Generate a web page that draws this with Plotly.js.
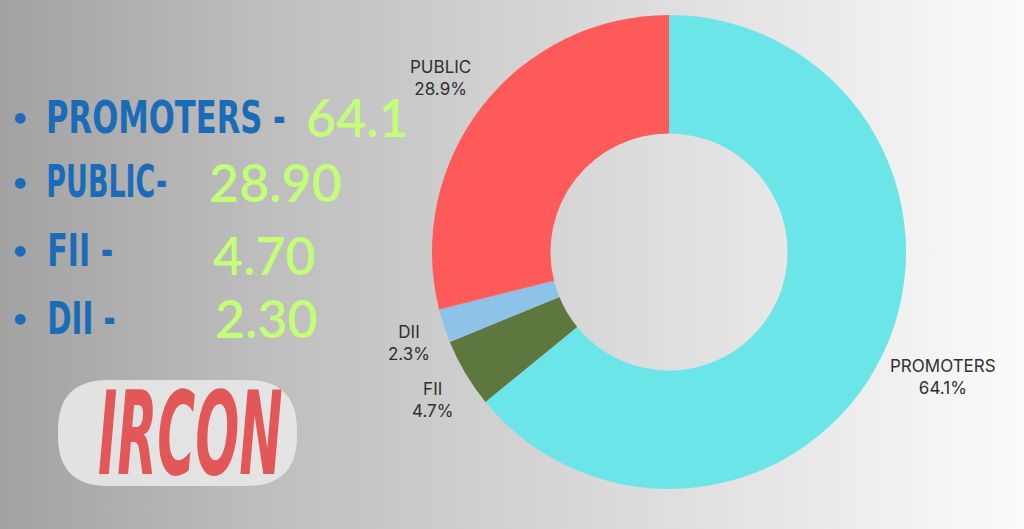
<!DOCTYPE html>
<html>
<head>
<meta charset="utf-8">
<script src="https://cdn.plot.ly/plotly-3.0.1.min.js"></script>
<style>
html,body{margin:0;padding:0;width:1024px;height:529px;overflow:hidden;}
body{background:linear-gradient(to right,#a2a2a2 0%,#bdbdbd 25%,#d2d2d2 50%,#e6e6e6 75%,#fbfbfb 100%);}
#chart{width:1024px;height:529px;}
</style>
<style id="dyn"></style>
</head>
<body>
<div id="chart"></div>
<script>
const categories = ["PROMOTERS", "FII", "DII", "PUBLIC"];
const values = [64.1, 4.7, 2.3, 28.9];
const colors = ["#6ce5e8", "#5d773e", "#8ec3e8", "#ff5a5a"];
const listLabels = ["PROMOTERS -", "PUBLIC-", "FII -", "DII -"];
const listValues = ["64.1", "28.90", "4.70", "2.30"];

const listY = [117, 182, 250, 318];
const labelCenterX = [166, 106, 80, 81];
const labelScale = [0.775, 0.68, 0.76, 0.74];
const valueX = [304, 207, 211, 213];
const valueYOff = [0, 0, 5, 0];

const H = 529, W = 1024;
const annotations = [];
const condensed = [];
for (let i = 0; i < listLabels.length; i++) {
  annotations.push({
    xref: "paper", yref: "paper", x: 20 / W, y: 1 - listY[i] / H,
    xanchor: "center", yanchor: "middle", showarrow: false,
    text: "●", font: {family: "DejaVu Sans", size: 14, color: "#1a6cb8"}
  });
  condensed.push([annotations.length, labelScale[i]]);
  annotations.push({
    xref: "paper", yref: "paper", x: labelCenterX[i] / W, y: 1 - listY[i] / H,
    xanchor: "center", yanchor: "middle", showarrow: false,
    text: listLabels[i],
    font: {family: "DejaVu Sans", size: 44, color: "#1a6cb8", weight: 700}
  });
  annotations.push({
    xref: "paper", yref: "paper", x: valueX[i] / W, y: 1 - (listY[i] + valueYOff[i]) / H,
    xanchor: "left", yanchor: "middle", showarrow: false,
    text: listValues[i],
    font: {family: "Lato, Open Sans, sans-serif", size: 52, color: "#c4fd78", weight: 600}
  });
}
const logoIdx = annotations.length;
annotations.push({
  xref: "paper", yref: "paper", x: 190 / W, y: 1 - 434 / H,
  xanchor: "center", yanchor: "middle", showarrow: false,
  text: "IRCON",
  font: {family: "DejaVu Sans", size: 72, color: "#e25858", weight: 700, style: "italic"}
});

// pie labels placed from the data (slice mid-angles)
const cx = 669, cy = 252, R = 237;
const total = values.reduce((a, b) => a + b, 0);
let cum = 0;
for (let i = 0; i < values.length; i++) {
  const mid = (cum + values[i] / 2) / total * 2 * Math.PI;
  cum += values[i];
  const sx = Math.sin(mid), dn = -Math.cos(mid);
  const rr = R + 12;
  const px = cx + rr * sx, py = cy + rr * dn;
  const yshift = 21 * Math.max(-1, Math.min(1, dn * 2));
  annotations.push({
    xref: "paper", yref: "paper", x: (px - (sx >= 0 ? 6 : 0)) / W, y: 1 - (py + yshift) / H,
    xanchor: sx >= 0 ? "left" : "right", yanchor: "middle", showarrow: false,
    align: "center",
    text: categories[i] + "<br>" + (values[i] / total * 100).toFixed(1) + "%",
    font: {family: "Inter, sans-serif", size: 17, color: "#303030"}
  });
}

function rrPath(x0, y0, x1, y1, r) {
  const px = v => v / W, py = v => 1 - v / H;
  return "M " + px(x0 + r) + "," + py(y0) +
    " L " + px(x1 - r) + "," + py(y0) +
    " Q " + px(x1) + "," + py(y0) + " " + px(x1) + "," + py(y0 + r) +
    " L " + px(x1) + "," + py(y1 - r) +
    " Q " + px(x1) + "," + py(y1) + " " + px(x1 - r) + "," + py(y1) +
    " L " + px(x0 + r) + "," + py(y1) +
    " Q " + px(x0) + "," + py(y1) + " " + px(x0) + "," + py(y1 - r) +
    " L " + px(x0) + "," + py(y0 + r) +
    " Q " + px(x0) + "," + py(y0) + " " + px(x0 + r) + "," + py(y0) + " Z";
}
const shapes = [{
  type: "path", xref: "paper", yref: "paper",
  path: rrPath(58, 380, 297, 486, 50),
  fillcolor: "rgba(232,232,232,0.9)", line: {width: 0}, layer: "below"
}];

const data = [{
  type: "pie",
  labels: categories,
  values: values,
  hole: 0.5,
  sort: false,
  direction: "clockwise",
  rotation: 0,
  marker: {colors: colors, line: {width: 0}},
  textinfo: "none",
  hoverinfo: "label+percent",
  showlegend: false,
  domain: {x: [(cx - R) / W, (cx + R) / W], y: [(H - cy - R) / H, (H - cy + R) / H]}
}];

const layout = {
  width: W, height: H,
  margin: {l: 0, r: 0, t: 0, b: 0},
  paper_bgcolor: "rgba(0,0,0,0)",
  plot_bgcolor: "rgba(0,0,0,0)",
  showlegend: false,
  annotations: annotations,
  shapes: shapes
};

let css = "";
condensed.forEach(([i, s]) => {
  css += '.annotation[data-index="' + i + '"] text{font-stretch:condensed;transform-box:fill-box;transform-origin:center center;transform:scaleX(' + s + ');}\n';
});
css += '.annotation[data-index="' + logoIdx + '"] text{font-stretch:condensed;transform-box:fill-box;transform-origin:center center;transform:scale(0.8,1.6);}\n';
document.getElementById("dyn").textContent = css;

Plotly.newPlot("chart", data, layout, {displayModeBar: false, staticPlot: true});
</script>
</body>
</html>
